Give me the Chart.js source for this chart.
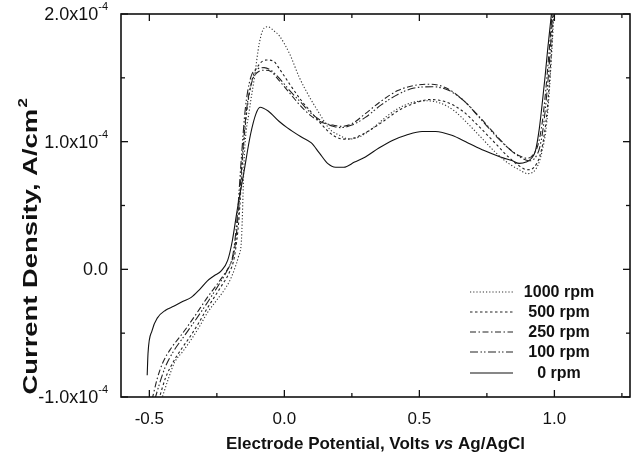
<!DOCTYPE html>
<html>
<head>
<meta charset="utf-8">
<script src="https://cdn.jsdelivr.net/npm/chart.js@4.4.1/dist/chart.umd.min.js"></script>
<style>
html,body{margin:0;padding:0;background:#fff;}
#wrap{width:643px;height:459px;position:relative;}
</style>
</head>
<body>
<div id="wrap"><canvas id="c"></canvas></div>
<script>
// ---- data (potential in V vs Ag/AgCl, current density in units of 1e-4 A/cm^2) ----
const seriesLabels = ['1000 rpm', '500 rpm', '250 rpm', '100 rpm', '0 rpm'];

const potential1000 = [-0.455,-0.43,-0.407,-0.375,-0.345,-0.315,-0.285,-0.25,-0.222,-0.2,-0.185,-0.17,-0.159,-0.148,-0.13,-0.111,-0.093,-0.075,-0.06,-0.04,-0.019,0.019,0.056,0.093,0.13,0.167,0.204,0.24,0.28,0.33,0.38,0.43,0.48,0.53,0.58,0.63,0.68,0.73,0.78,0.83,0.87,0.9,0.92,0.94,0.955,0.968,0.978,0.986,0.993,1.0];
const current1000   = [-1.02,-0.86,-0.73,-0.64,-0.55,-0.45,-0.34,-0.24,-0.16,-0.08,0.0,0.1,0.23,0.9,1.24,1.5,1.77,1.89,1.90,1.87,1.83,1.69,1.5,1.35,1.22,1.10,1.05,1.02,1.04,1.11,1.20,1.27,1.31,1.32,1.30,1.24,1.14,1.03,0.92,0.83,0.78,0.75,0.76,0.82,0.93,1.08,1.30,1.55,1.80,2.06];

const potential500 = [-0.465,-0.44,-0.41,-0.38,-0.35,-0.32,-0.29,-0.26,-0.23,-0.205,-0.185,-0.168,-0.155,-0.14,-0.12,-0.095,-0.065,-0.04,-0.015,0.02,0.06,0.10,0.14,0.18,0.22,0.26,0.30,0.36,0.42,0.48,0.54,0.60,0.66,0.72,0.78,0.83,0.87,0.9,0.925,0.945,0.96,0.972,0.982,0.99,0.997];
const current500   = [-1.02,-0.85,-0.72,-0.62,-0.53,-0.43,-0.32,-0.22,-0.12,-0.03,0.1,0.4,0.85,1.22,1.48,1.6,1.64,1.63,1.56,1.45,1.33,1.23,1.13,1.05,1.02,1.03,1.07,1.15,1.24,1.30,1.33,1.31,1.24,1.12,0.99,0.88,0.81,0.78,0.80,0.88,1.02,1.22,1.48,1.75,2.06];

const potential250 = [-0.49,-0.47,-0.45,-0.42,-0.38,-0.333,-0.285,-0.25,-0.22,-0.2,-0.185,-0.17,-0.155,-0.14,-0.12,-0.095,-0.07,-0.05,-0.02,0.02,0.06,0.10,0.14,0.18,0.21,0.25,0.30,0.36,0.42,0.48,0.54,0.60,0.66,0.72,0.78,0.83,0.87,0.9,0.922,0.94,0.955,0.967,0.977,0.986,0.993];
const current250   = [-1.02,-0.85,-0.73,-0.62,-0.51,-0.37,-0.22,-0.12,-0.03,0.04,0.15,0.45,0.9,1.25,1.47,1.55,1.56,1.55,1.48,1.38,1.28,1.20,1.15,1.13,1.12,1.14,1.22,1.32,1.40,1.44,1.45,1.42,1.33,1.20,1.06,0.95,0.89,0.87,0.90,0.98,1.15,1.38,1.62,1.85,2.06];

const potential100 = [-0.48,-0.46,-0.44,-0.41,-0.37,-0.33,-0.285,-0.24,-0.21,-0.19,-0.175,-0.16,-0.145,-0.125,-0.1,-0.075,-0.05,-0.02,0.02,0.06,0.10,0.14,0.18,0.21,0.25,0.30,0.36,0.42,0.48,0.55,0.61,0.67,0.73,0.79,0.84,0.88,0.905,0.927,0.945,0.958,0.97,0.98,0.988,0.995];
const current100   = [-1.02,-0.88,-0.76,-0.64,-0.52,-0.40,-0.26,-0.11,0.0,0.12,0.4,0.85,1.25,1.5,1.57,1.58,1.56,1.50,1.40,1.31,1.22,1.16,1.12,1.11,1.13,1.19,1.29,1.37,1.42,1.43,1.40,1.31,1.17,1.03,0.93,0.87,0.85,0.87,0.95,1.10,1.33,1.58,1.82,2.06];

const potential0 = [-0.508,-0.505,-0.49,-0.47,-0.44,-0.41,-0.375,-0.345,-0.315,-0.285,-0.26,-0.233,-0.21,-0.193,-0.175,-0.15,-0.125,-0.105,-0.09,-0.06,-0.02,0.01,0.06,0.10,0.13,0.16,0.19,0.22,0.26,0.30,0.35,0.40,0.45,0.51,0.56,0.62,0.68,0.74,0.80,0.845,0.87,0.895,0.915,0.93,0.944,0.956,0.966,0.975,0.984,0.992];
const current0   = [-0.83,-0.66,-0.48,-0.38,-0.32,-0.29,-0.25,-0.22,-0.16,-0.09,-0.05,-0.01,0.07,0.22,0.46,0.76,1.06,1.22,1.27,1.24,1.16,1.11,1.04,0.99,0.91,0.83,0.80,0.80,0.84,0.88,0.95,1.01,1.05,1.08,1.08,1.05,0.99,0.93,0.88,0.85,0.83,0.84,0.87,0.93,1.10,1.32,1.52,1.72,1.90,2.06];

const xTickValues = [-0.5, 0.0, 0.5, 1.0];
const xMinorTicks = [-0.25, 0.25, 0.75, 1.25];
const yTickValues = [-1, 0, 1, 2];
const yMinorTicks = [-0.5, 0.5, 1.5];
const yTickLabels = ['-1.0x10^-4', '0.0', '1.0x10^-4', '2.0x10^-4'];

// ---- build datasets ----
const pairs = (xs, ys) => xs.map((v, i) => ({ x: v, y: ys[i] }));
const allPot = [potential1000, potential500, potential250, potential100, potential0];
const allCur = [current1000, current500, current250, current100, current0];
const dashes = [[1.2, 2], [2.5, 2.5], [6, 2.5, 1.5, 2.5], [8, 2.5, 1.5, 2, 1.5, 2.5], []];
const colors = ['#333', '#222', '#222', '#222', '#111'];

const datasets = seriesLabels.map((lab, i) => ({
  label: lab,
  data: pairs(allPot[i], allCur[i]),
  borderColor: colors[i],
  borderWidth: 1.1,
  borderDash: dashes[i],
  pointRadius: 0,
  fill: false,
  cubicInterpolationMode: 'monotone'
}));

const FONT = '"Liberation Sans", Arial, sans-serif';

const decor = {
  id: 'decor',
  afterDraw(chart) {
    const { ctx, chartArea: a, scales: { x, y } } = chart;
    ctx.save();
    ctx.setLineDash([]);
    ctx.strokeStyle = '#111';
    ctx.lineWidth = 1.6;
    ctx.strokeRect(a.left, a.top, a.right - a.left, a.bottom - a.top);
    const seg = (x1, y1, x2, y2) => { ctx.beginPath(); ctx.moveTo(x1, y1); ctx.lineTo(x2, y2); ctx.stroke(); };
    ctx.lineWidth = 1.3;
    xTickValues.forEach(v => { const p = x.getPixelForValue(v); seg(p, a.bottom, p, a.bottom - 7); seg(p, a.top, p, a.top + 7); });
    xMinorTicks.forEach(v => { const p = x.getPixelForValue(v); seg(p, a.bottom, p, a.bottom - 4); seg(p, a.top, p, a.top + 4); });
    yTickValues.forEach(v => { const p = y.getPixelForValue(v); seg(a.left, p, a.left + 7, p); seg(a.right, p, a.right - 7, p); });
    yMinorTicks.forEach(v => { const p = y.getPixelForValue(v); seg(a.left, p, a.left + 4, p); seg(a.right, p, a.right - 4, p); });

    // y tick labels with superscript exponent
    ctx.fillStyle = '#111';
    ctx.textBaseline = 'middle';
    yTickLabels.forEach((lab, i) => {
      const p = y.getPixelForValue(yTickValues[i]);
      const parts = lab.split('^');
      let right = a.left - 13;
      if (parts[1]) {
        ctx.font = '11px ' + FONT;
        const we = ctx.measureText(parts[1]).width;
        ctx.textAlign = 'left';
        ctx.fillText(parts[1], right - we, p - 7);
        right -= we;
      }
      ctx.font = '18px ' + FONT;
      ctx.textAlign = 'right';
      ctx.fillText(parts[0], right, p + 1);
    });

    // x axis title (with italic "vs")
    const tParts = [['Electrode Potential, Volts ', 'bold'], ['vs', 'italic bold'], [' Ag/AgCl', 'bold']];
    let tw = 0;
    tParts.forEach(t => { ctx.font = t[1] + ' 17px ' + FONT; tw += ctx.measureText(t[0]).width; });
    let tx = (a.left + a.right) / 2 - tw / 2;
    ctx.textAlign = 'left';
    ctx.textBaseline = 'alphabetic';
    tParts.forEach(t => { ctx.font = t[1] + ' 17px ' + FONT; ctx.fillText(t[0], tx, 449); tx += ctx.measureText(t[0]).width; });

    // y axis title
    ctx.save();
    ctx.translate(37, 247);
    ctx.rotate(-Math.PI / 2);
    ctx.font = 'bold 21px ' + FONT;
    const main = 'Current Density, A/cm';
    const wm = ctx.measureText(main).width;
    ctx.font = 'bold 13px ' + FONT;
    const ws = ctx.measureText('2').width;
    const sx = 295 / (wm + ws);
    ctx.scale(sx, 1);
    let sx0 = -(wm + ws) / 2;
    ctx.font = 'bold 21px ' + FONT;
    ctx.fillText(main, sx0, 0);
    ctx.font = 'bold 13px ' + FONT;
    ctx.fillText('2', sx0 + wm + 1, -10);
    ctx.restore();

    // legend
    const rowY = [292, 312, 332, 352, 373];
    ctx.textAlign = 'center';
    ctx.textBaseline = 'middle';
    chart.data.datasets.forEach((ds, i) => {
      const ry = rowY[i];
      ctx.strokeStyle = ds.borderColor;
      ctx.lineWidth = 1.1;
      ctx.setLineDash(ds.borderDash);
      seg(470, ry, 513, ry);
      ctx.setLineDash([]);
      ctx.fillStyle = '#111';
      ctx.font = 'bold 16px ' + FONT;
      ctx.fillText(ds.label, 559, ry + 1);
    });
    ctx.restore();
  }
};

new Chart(document.getElementById('c'), {
  type: 'line',
  data: { datasets },
  options: {
    responsive: true,
    maintainAspectRatio: false,
    animation: false,
    layout: { padding: { left: 121, top: 14, right: 13, bottom: 0 } },
    plugins: { legend: { display: false }, tooltip: { enabled: false } },
    scales: {
      x: {
        type: 'linear',
        min: -0.605,
        max: 1.28,
        grid: { display: false, drawTicks: false },
        border: { display: false },
        afterFit: s => { s.height = 62; },
        afterBuildTicks: s => { s.ticks = xTickValues.map(v => ({ value: v })); },
        ticks: {
          padding: 12,
          color: '#111',
          font: { family: FONT, size: 17 },
          callback: v => Number(v).toFixed(1)
        }
      },
      y: {
        type: 'linear',
        min: -1,
        max: 2,
        grid: { display: false, drawTicks: false },
        border: { display: false },
        afterFit: s => { s.width = 0; },
        ticks: { display: false }
      }
    }
  },
  plugins: [decor]
});
</script>
</body>
</html>
